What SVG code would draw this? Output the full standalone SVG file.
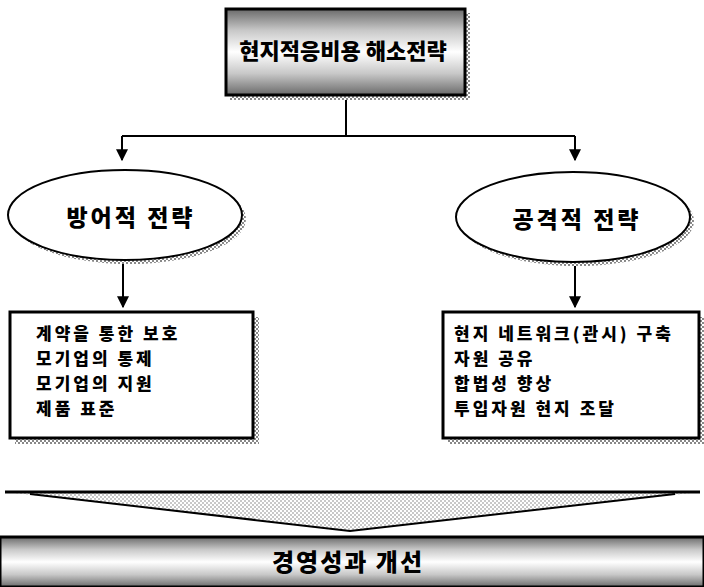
<svg xmlns="http://www.w3.org/2000/svg" width="704" height="587" viewBox="0 0 704 587">
<style>
.t{font-family:"Noto Sans CJK KR","Noto Sans",sans-serif;font-weight:900;fill:#000}
.ls{font-size:17px;letter-spacing:3px}
.ln{stroke:#000;stroke-width:2;fill:none}
.bx{fill:#fff;stroke:#000;stroke-width:3}
</style>
<defs>
<linearGradient id="g1" x1="0" y1="0" x2="0" y2="1">
<stop offset="0" stop-color="#6a6a6a"/>
<stop offset="0.25" stop-color="#c8c8c8"/>
<stop offset="0.5" stop-color="#ffffff"/>
<stop offset="0.75" stop-color="#c8c8c8"/>
<stop offset="1" stop-color="#6a6a6a"/>
</linearGradient>
<pattern id="dots" width="4" height="4" patternUnits="userSpaceOnUse">
<rect width="4" height="4" fill="#fff"/>
<rect width="2" height="2" fill="#888"/>
<rect x="2" y="2" width="2" height="2" fill="#888"/>
</pattern>
<pattern id="lite" width="4" height="4" patternUnits="userSpaceOnUse">
<rect width="4" height="4" fill="#fff"/>
<rect width="2" height="2" fill="#c8c8c8"/>
<rect x="2" y="2" width="2" height="2" fill="#c8c8c8"/>
</pattern>
<marker id="ar" viewBox="0 0 10 10" refX="9" refY="5" markerWidth="6" markerHeight="6" orient="auto">
<path d="M0,0 L10,5 L0,10 z" fill="#000"/>
</marker>
</defs>

<g id="connectors">
<path class="ln" d="M346,95 V136 M122,136 H575"/>
<path class="ln" d="M122,136 V160" marker-end="url(#ar)"/>
<path class="ln" d="M575,136 V160" marker-end="url(#ar)"/>
<path class="ln" d="M123,262 V307" marker-end="url(#ar)"/>
<path class="ln" d="M575,264 V307" marker-end="url(#ar)"/>
</g>

<g id="top">
<rect x="230" y="13" width="240" height="87" fill="url(#dots)"/>
<rect x="226" y="9" width="239" height="86" fill="url(#g1)" stroke="#000" stroke-width="3"/>
<text class="t" x="343" y="59" font-size="22" text-anchor="middle">현지적응비용 해소전략</text>
</g>

<g id="defense">
<ellipse cx="129" cy="219" rx="117" ry="45" fill="url(#dots)"/>
<ellipse cx="125" cy="215" rx="117" ry="45" fill="#fff" stroke="#000" stroke-width="2"/>
<text class="t" x="131" y="226" font-size="23" letter-spacing="3" text-anchor="middle">방어적 전략</text>
</g>

<g id="offense">
<ellipse cx="577" cy="221" rx="117" ry="45" fill="url(#dots)"/>
<ellipse cx="573" cy="217" rx="117" ry="45" fill="#fff" stroke="#000" stroke-width="2"/>
<text class="t" x="577" y="228" font-size="23" letter-spacing="3" text-anchor="middle">공격적 전략</text>
</g>

<g id="defense-list">
<rect x="15" y="317" width="244" height="127" fill="url(#dots)"/>
<rect class="bx" x="10" y="312" width="243" height="126"/>
<text class="t ls">
<tspan x="36" y="340">계약을 통한 보호</tspan>
<tspan x="36" y="365">모기업의 통제</tspan>
<tspan x="36" y="390">모기업의 지원</tspan>
<tspan x="36" y="415">제품 표준</tspan>
</text>
</g>

<g id="offense-list">
<rect x="448" y="317" width="256" height="127" fill="url(#dots)"/>
<rect class="bx" x="443" y="312" width="256" height="126"/>
<text class="t ls">
<tspan x="454" y="340">현지 네트워크(관시) 구축</tspan>
<tspan x="454" y="365">자원 공유</tspan>
<tspan x="454" y="390">합법성 향상</tspan>
<tspan x="454" y="415">투입자원 현지 조달</tspan>
</text>
</g>

<g id="funnel">
<path d="M5,492 H700 L350,531 Z" fill="url(#lite)"/>
<path d="M5,492 H700" stroke="#000" stroke-width="3"/>
<path d="M30,494 L350,531 L675,494" class="ln"/>
</g>

<g id="result">
<rect x="0" y="537" width="704" height="50" fill="url(#g1)" stroke="#000" stroke-width="3"/>
<text class="t" x="348" y="571" font-size="24" letter-spacing="2" text-anchor="middle">경영성과 개선</text>
</g>
</svg>
